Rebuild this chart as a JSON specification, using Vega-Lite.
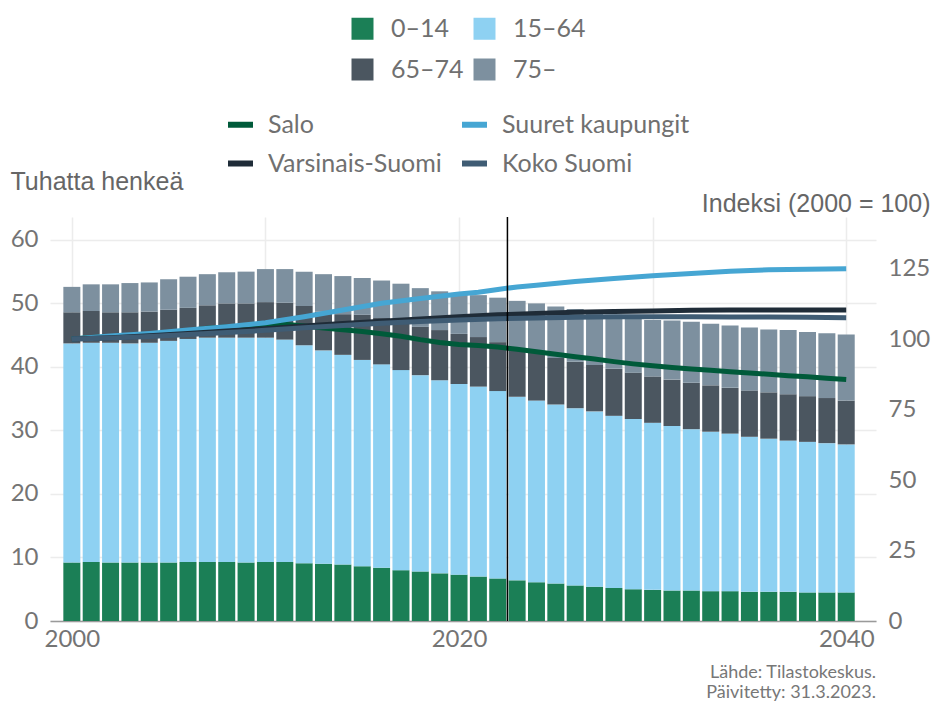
{
  "$schema": "https://vega.github.io/schema/vega-lite/v6.json",
  "width": 826,
  "height": 404,
  "autosize": {"type": "none"},
  "padding": {"left": 50, "top": 217, "right": 58, "bottom": 83},
  "background": "white",
  "title": {
    "text": ["Lähde: Tilastokeskus.", "Päivitetty: 31.3.2023."],
    "orient": "bottom",
    "anchor": "end",
    "frame": "group",
    "font": "Lato",
    "fontSize": 18,
    "fontWeight": "normal",
    "color": "#777777",
    "lineHeight": 20,
    "offset": 13
  },
  "config": {
    "view": {"stroke": null},
    "axis": {"labelFont": "Lato", "labelFontSize": 24, "labelColor": "#747474", "ticks": false}
  },
  "datasets": {
    "bars": [
      {"year": 2000, "0–14": 9.2, "15–64": 34.5, "65–74": 4.9, "75–": 4.0},
      {"year": 2001, "0–14": 9.3, "15–64": 34.5, "65–74": 5.0, "75–": 4.2},
      {"year": 2002, "0–14": 9.2, "15–64": 34.6, "65–74": 4.8, "75–": 4.4},
      {"year": 2003, "0–14": 9.2, "15–64": 34.5, "65–74": 4.9, "75–": 4.6},
      {"year": 2004, "0–14": 9.2, "15–64": 34.6, "65–74": 4.9, "75–": 4.6},
      {"year": 2005, "0–14": 9.2, "15–64": 34.9, "65–74": 4.9, "75–": 4.8},
      {"year": 2006, "0–14": 9.3, "15–64": 35.1, "65–74": 4.9, "75–": 4.9},
      {"year": 2007, "0–14": 9.3, "15–64": 35.3, "65–74": 5.1, "75–": 4.9},
      {"year": 2008, "0–14": 9.3, "15–64": 35.3, "65–74": 5.4, "75–": 4.9},
      {"year": 2009, "0–14": 9.2, "15–64": 35.4, "65–74": 5.4, "75–": 5.0},
      {"year": 2010, "0–14": 9.3, "15–64": 35.3, "65–74": 5.6, "75–": 5.2},
      {"year": 2011, "0–14": 9.3, "15–64": 35.0, "65–74": 5.8, "75–": 5.3},
      {"year": 2012, "0–14": 9.1, "15–64": 34.3, "65–74": 6.2, "75–": 5.4},
      {"year": 2013, "0–14": 9.0, "15–64": 33.6, "65–74": 6.1, "75–": 5.9},
      {"year": 2014, "0–14": 8.9, "15–64": 33.0, "65–74": 6.4, "75–": 6.0},
      {"year": 2015, "0–14": 8.6, "15–64": 32.5, "65–74": 7.1, "75–": 5.8},
      {"year": 2016, "0–14": 8.4, "15–64": 32.0, "65–74": 7.3, "75–": 5.9},
      {"year": 2017, "0–14": 8.0, "15–64": 31.5, "65–74": 7.6, "75–": 6.0},
      {"year": 2018, "0–14": 7.8, "15–64": 30.9, "65–74": 7.6, "75–": 6.1},
      {"year": 2019, "0–14": 7.5, "15–64": 30.4, "65–74": 7.9, "75–": 6.1},
      {"year": 2020, "0–14": 7.3, "15–64": 30.0, "65–74": 7.9, "75–": 6.2},
      {"year": 2021, "0–14": 7.0, "15–64": 29.9, "65–74": 7.8, "75–": 6.6},
      {"year": 2022, "0–14": 6.7, "15–64": 29.5, "65–74": 7.7, "75–": 7.0},
      {"year": 2023, "0–14": 6.4, "15–64": 28.9, "65–74": 7.6, "75–": 7.5},
      {"year": 2024, "0–14": 6.1, "15–64": 28.6, "65–74": 7.5, "75–": 7.8},
      {"year": 2025, "0–14": 5.9, "15–64": 28.2, "65–74": 7.3, "75–": 8.1},
      {"year": 2026, "0–14": 5.6, "15–64": 27.9, "65–74": 7.3, "75–": 8.3},
      {"year": 2027, "0–14": 5.4, "15–64": 27.6, "65–74": 7.3, "75–": 8.5},
      {"year": 2028, "0–14": 5.2, "15–64": 27.1, "65–74": 7.4, "75–": 8.5},
      {"year": 2029, "0–14": 5.0, "15–64": 26.8, "65–74": 7.3, "75–": 8.5},
      {"year": 2030, "0–14": 4.9, "15–64": 26.3, "65–74": 7.3, "75–": 8.9},
      {"year": 2031, "0–14": 4.8, "15–64": 25.9, "65–74": 7.3, "75–": 9.3},
      {"year": 2032, "0–14": 4.8, "15–64": 25.4, "65–74": 7.3, "75–": 9.6},
      {"year": 2033, "0–14": 4.7, "15–64": 25.1, "65–74": 7.3, "75–": 9.7},
      {"year": 2034, "0–14": 4.7, "15–64": 24.8, "65–74": 7.2, "75–": 9.8},
      {"year": 2035, "0–14": 4.6, "15–64": 24.4, "65–74": 7.3, "75–": 9.9},
      {"year": 2036, "0–14": 4.6, "15–64": 24.1, "65–74": 7.3, "75–": 9.9},
      {"year": 2037, "0–14": 4.6, "15–64": 23.8, "65–74": 7.3, "75–": 10.1},
      {"year": 2038, "0–14": 4.5, "15–64": 23.7, "65–74": 7.2, "75–": 10.1},
      {"year": 2039, "0–14": 4.5, "15–64": 23.5, "65–74": 7.1, "75–": 10.2},
      {"year": 2040, "0–14": 4.5, "15–64": 23.3, "65–74": 6.9, "75–": 10.4}
    ],
    "lines": [
      {"year": 2000, "area": "Salo", "index": 100},
      {"year": 2001, "area": "Salo", "index": 100.6},
      {"year": 2002, "area": "Salo", "index": 100.8},
      {"year": 2003, "area": "Salo", "index": 101.1},
      {"year": 2004, "area": "Salo", "index": 101.3},
      {"year": 2005, "area": "Salo", "index": 102.2},
      {"year": 2006, "area": "Salo", "index": 103.0},
      {"year": 2007, "area": "Salo", "index": 103.8},
      {"year": 2008, "area": "Salo", "index": 104.3},
      {"year": 2009, "area": "Salo", "index": 104.6},
      {"year": 2010, "area": "Salo", "index": 105.3},
      {"year": 2011, "area": "Salo", "index": 105.3},
      {"year": 2012, "area": "Salo", "index": 104.6},
      {"year": 2013, "area": "Salo", "index": 103.9},
      {"year": 2014, "area": "Salo", "index": 103.3},
      {"year": 2015, "area": "Salo", "index": 102.7},
      {"year": 2016, "area": "Salo", "index": 101.9},
      {"year": 2017, "area": "Salo", "index": 101.0},
      {"year": 2018, "area": "Salo", "index": 99.8},
      {"year": 2019, "area": "Salo", "index": 98.8},
      {"year": 2020, "area": "Salo", "index": 98.1},
      {"year": 2021, "area": "Salo", "index": 97.7},
      {"year": 2022, "area": "Salo", "index": 97.2},
      {"year": 2023, "area": "Salo", "index": 96.4},
      {"year": 2024, "area": "Salo", "index": 95.5},
      {"year": 2025, "area": "Salo", "index": 94.6},
      {"year": 2026, "area": "Salo", "index": 93.7},
      {"year": 2027, "area": "Salo", "index": 92.9},
      {"year": 2028, "area": "Salo", "index": 92.0},
      {"year": 2029, "area": "Salo", "index": 91.2},
      {"year": 2030, "area": "Salo", "index": 90.5},
      {"year": 2031, "area": "Salo", "index": 89.9},
      {"year": 2032, "area": "Salo", "index": 89.4},
      {"year": 2033, "area": "Salo", "index": 88.9},
      {"year": 2034, "area": "Salo", "index": 88.4},
      {"year": 2035, "area": "Salo", "index": 88.0},
      {"year": 2036, "area": "Salo", "index": 87.5},
      {"year": 2037, "area": "Salo", "index": 87.0},
      {"year": 2038, "area": "Salo", "index": 86.6},
      {"year": 2039, "area": "Salo", "index": 86.1},
      {"year": 2040, "area": "Salo", "index": 85.7},
      {"year": 2000, "area": "Suuret kaupungit", "index": 100},
      {"year": 2002, "area": "Suuret kaupungit", "index": 101.1},
      {"year": 2004, "area": "Suuret kaupungit", "index": 102.0},
      {"year": 2006, "area": "Suuret kaupungit", "index": 103.2},
      {"year": 2008, "area": "Suuret kaupungit", "index": 104.4},
      {"year": 2010, "area": "Suuret kaupungit", "index": 105.8},
      {"year": 2012, "area": "Suuret kaupungit", "index": 107.9},
      {"year": 2014, "area": "Suuret kaupungit", "index": 110.3},
      {"year": 2016, "area": "Suuret kaupungit", "index": 112.7},
      {"year": 2018, "area": "Suuret kaupungit", "index": 114.4},
      {"year": 2020, "area": "Suuret kaupungit", "index": 116.0},
      {"year": 2021, "area": "Suuret kaupungit", "index": 116.6},
      {"year": 2022, "area": "Suuret kaupungit", "index": 117.6},
      {"year": 2023, "area": "Suuret kaupungit", "index": 118.5},
      {"year": 2024, "area": "Suuret kaupungit", "index": 119.1},
      {"year": 2026, "area": "Suuret kaupungit", "index": 120.4},
      {"year": 2028, "area": "Suuret kaupungit", "index": 121.5},
      {"year": 2030, "area": "Suuret kaupungit", "index": 122.5},
      {"year": 2032, "area": "Suuret kaupungit", "index": 123.3},
      {"year": 2034, "area": "Suuret kaupungit", "index": 124.1},
      {"year": 2036, "area": "Suuret kaupungit", "index": 124.6},
      {"year": 2038, "area": "Suuret kaupungit", "index": 124.8},
      {"year": 2040, "area": "Suuret kaupungit", "index": 124.9},
      {"year": 2000, "area": "Varsinais-Suomi", "index": 100},
      {"year": 2002, "area": "Varsinais-Suomi", "index": 100.5},
      {"year": 2004, "area": "Varsinais-Suomi", "index": 101.2},
      {"year": 2006, "area": "Varsinais-Suomi", "index": 102.0},
      {"year": 2008, "area": "Varsinais-Suomi", "index": 102.9},
      {"year": 2010, "area": "Varsinais-Suomi", "index": 103.7},
      {"year": 2012, "area": "Varsinais-Suomi", "index": 104.6},
      {"year": 2014, "area": "Varsinais-Suomi", "index": 105.5},
      {"year": 2016, "area": "Varsinais-Suomi", "index": 106.3},
      {"year": 2018, "area": "Varsinais-Suomi", "index": 107.1},
      {"year": 2020, "area": "Varsinais-Suomi", "index": 107.9},
      {"year": 2022, "area": "Varsinais-Suomi", "index": 108.6},
      {"year": 2024, "area": "Varsinais-Suomi", "index": 109.1},
      {"year": 2026, "area": "Varsinais-Suomi", "index": 109.5},
      {"year": 2028, "area": "Varsinais-Suomi", "index": 109.8},
      {"year": 2030, "area": "Varsinais-Suomi", "index": 110.0},
      {"year": 2032, "area": "Varsinais-Suomi", "index": 110.2},
      {"year": 2034, "area": "Varsinais-Suomi", "index": 110.3},
      {"year": 2036, "area": "Varsinais-Suomi", "index": 110.3},
      {"year": 2038, "area": "Varsinais-Suomi", "index": 110.3},
      {"year": 2040, "area": "Varsinais-Suomi", "index": 110.3},
      {"year": 2000, "area": "Koko Suomi", "index": 100},
      {"year": 2002, "area": "Koko Suomi", "index": 100.4},
      {"year": 2004, "area": "Koko Suomi", "index": 100.9},
      {"year": 2006, "area": "Koko Suomi", "index": 101.6},
      {"year": 2008, "area": "Koko Suomi", "index": 102.3},
      {"year": 2010, "area": "Koko Suomi", "index": 103.1},
      {"year": 2012, "area": "Koko Suomi", "index": 104.0},
      {"year": 2014, "area": "Koko Suomi", "index": 104.8},
      {"year": 2016, "area": "Koko Suomi", "index": 105.6},
      {"year": 2018, "area": "Koko Suomi", "index": 106.2},
      {"year": 2020, "area": "Koko Suomi", "index": 106.8},
      {"year": 2022, "area": "Koko Suomi", "index": 107.2},
      {"year": 2024, "area": "Koko Suomi", "index": 107.5},
      {"year": 2026, "area": "Koko Suomi", "index": 107.7},
      {"year": 2028, "area": "Koko Suomi", "index": 107.9},
      {"year": 2030, "area": "Koko Suomi", "index": 107.9},
      {"year": 2032, "area": "Koko Suomi", "index": 107.9},
      {"year": 2034, "area": "Koko Suomi", "index": 107.8},
      {"year": 2036, "area": "Koko Suomi", "index": 107.8},
      {"year": 2038, "area": "Koko Suomi", "index": 107.7},
      {"year": 2040, "area": "Koko Suomi", "index": 107.6}
    ],
    "marker": [{"year": 2022.5}]
  },
  "layer": [
    {
      "data": {"name": "bars"},
      "transform": [{"fold": ["0–14", "15–64", "65–74", "75–"], "as": ["age", "value"]}],
      "mark": {"type": "bar", "size": 17},
      "encoding": {
        "x": {
          "field": "year",
          "type": "quantitative",
          "scale": {"domain": [1999.13, 2041.28], "nice": false, "zero": false},
          "axis": {
            "values": [2000, 2010, 2020, 2030, 2040],
            "format": "d",
            "labelExpr": "datum.value % 20 === 0 ? datum.label : ''",
            "grid": true,
            "gridColor": "#ececec",
            "gridWidth": 1.5,
            "domain": true,
            "domainColor": "#9a9a9a",
            "domainWidth": 1.5,
            "labelPadding": 6,
            "title": null
          }
        },
        "y": {
          "field": "value",
          "type": "quantitative",
          "stack": "zero",
          "scale": {"domain": [0, 63.6], "nice": false},
          "axis": {
            "values": [0, 10, 20, 30, 40, 50, 60],
            "grid": true,
            "gridColor": "#ececec",
            "gridWidth": 1.5,
            "domain": false,
            "labelPadding": 12,
            "title": "Tuhatta henkeä",
            "titleAngle": 0,
            "titleX": -40,
            "titleY": -36,
            "titleAlign": "left",
            "titleBaseline": "middle",
            "titleFont": "Liberation Sans",
            "titleFontSize": 25,
            "titleFontWeight": "normal",
            "titleColor": "#666666"
          }
        },
        "fill": {
          "field": "age",
          "type": "nominal",
          "scale": {"domain": ["0–14", "15–64", "65–74", "75–"], "range": ["#1b7f56", "#8ed1f2", "#4b5660", "#7d909f"]},
          "legend": {
            "orient": "none",
            "direction": "horizontal",
            "legendX": 300,
            "legendY": -201,
            "columns": 2,
            "title": null,
            "symbolType": "square",
            "symbolSize": 484,
            "symbolStrokeWidth": 0,
            "symbolOpacity": 1,
            "labelFont": "Lato",
            "labelFontSize": 25,
            "labelColor": "#707070",
            "labelOffset": 16,
            "columnPadding": 8,
            "rowPadding": 15,
            "padding": 0
          }
        },
        "order": {"field": "age", "sort": "ascending"}
      }
    },
    {
      "data": {"name": "lines"},
      "mark": {"type": "line", "strokeWidth": 5},
      "encoding": {
        "x": {"field": "year", "type": "quantitative"},
        "y": {
          "field": "index",
          "type": "quantitative",
          "scale": {"domain": [0, 143.3], "nice": false},
          "axis": {
            "orient": "right",
            "values": [0, 25, 50, 75, 100, 125],
            "grid": false,
            "domain": false,
            "labelPadding": 12,
            "title": "Indeksi (2000 = 100)",
            "titleAngle": 0,
            "titleX": 54,
            "titleY": -14,
            "titleAlign": "right",
            "titleBaseline": "middle",
            "titleFont": "Liberation Sans",
            "titleFontSize": 25,
            "titleFontWeight": "normal",
            "titleColor": "#666666"
          }
        },
        "stroke": {
          "field": "area",
          "type": "nominal",
          "scale": {"domain": ["Salo", "Suuret kaupungit", "Varsinais-Suomi", "Koko Suomi"], "range": ["#005a3a", "#46a6d3", "#1f2c38", "#3f5c74"]},
          "legend": {
            "orient": "none",
            "direction": "horizontal",
            "legendX": 175,
            "legendY": -108,
            "columns": 2,
            "title": null,
            "symbolType": "stroke",
            "symbolSize": 625,
            "symbolStrokeWidth": 6,
            "labelFont": "Lato",
            "labelFontSize": 25,
            "labelColor": "#707070",
            "labelOffset": 12,
            "columnPadding": 8,
            "rowPadding": 10,
            "padding": 0,
            "labelLimit": 400
          }
        }
      }
    },
    {
      "data": {"name": "marker"},
      "mark": {"type": "rule", "color": "#000000", "strokeWidth": 1.5},
      "encoding": {"x": {"field": "year", "type": "quantitative"}}
    }
  ],
  "resolve": {"scale": {"y": "independent"}}
}
